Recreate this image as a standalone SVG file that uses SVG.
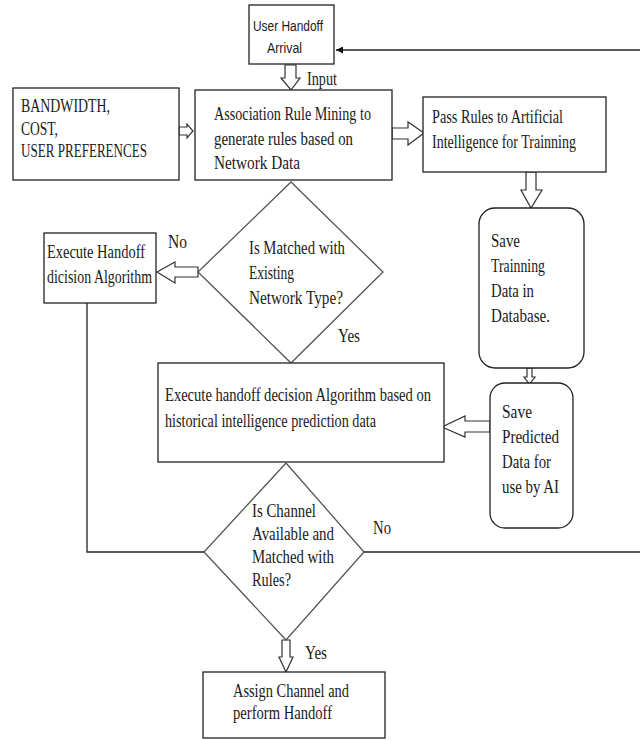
<svg xmlns="http://www.w3.org/2000/svg" width="640" height="740" viewBox="0 0 640 740">
<style>
  .box{fill:#fff;stroke:#222;stroke-width:1.3}
  .dia{fill:#fff;stroke:#555;stroke-width:1.3}
  .t{font-family:"Liberation Serif","Times New Roman",serif;font-size:18px;fill:#1a1a1a}
  .s{font-family:"Liberation Sans",Arial,sans-serif;font-size:14px;fill:#1a1a1a}
  .ln{fill:none;stroke:#222;stroke-width:1.3}
  .blk{fill:#fff;stroke:#333;stroke-width:1.2;stroke-linejoin:miter}
</style>
<defs>
  <marker id="ah" viewBox="0 0 10 10" refX="10" refY="5" markerWidth="7" markerHeight="7" markerUnits="userSpaceOnUse" orient="auto">
    <path d="M0,0 L10,5 L0,10 z" fill="#111"/>
  </marker>
</defs>
<rect width="640" height="740" fill="#fff"/>

<g id="connectors">
  <line class="ln" x1="640" y1="50" x2="336" y2="50" marker-end="url(#ah)"/>
  <polyline class="ln" points="87,303 87,552 204,552"/>
  <line class="ln" x1="364" y1="552" x2="640" y2="552"/>
  <polygon class="blk" points="285,65 296,65 296,78 300,78 291,90 281,78 285,78"/>
  <polygon class="blk" points="179,127 187,127 187,124 193,131 187,138 187,135 179,135"/>
  <polygon class="blk" points="392,128 408,128 408,122 424,133 408,145 408,139 392,139"/>
  <polygon class="blk" points="526,172 536,172 536,190 542,190 531,208 521,190 526,190"/>
  <polygon class="blk" points="527,368 532,368 532,377 535,377 529.5,384 524,377 527,377"/>
  <polygon class="blk" points="198,267 175,267 175,262 157,272 175,283 175,277 198,277"/>
  <polygon class="blk" points="490,421 465,421 465,416 442,427 465,437 465,432 490,432"/>
  <polygon class="blk" points="282,640 290,640 290,657 293,657 286,672 279,657 282,657"/>
  <text class="t" x="307" y="85" textLength="30" lengthAdjust="spacingAndGlyphs">Input</text>
  <text class="t" x="168" y="248" textLength="19" lengthAdjust="spacingAndGlyphs">No</text>
  <text class="t" x="338" y="342" textLength="22" lengthAdjust="spacingAndGlyphs">Yes</text>
  <text class="t" x="373" y="534" textLength="18" lengthAdjust="spacingAndGlyphs">No</text>
  <text class="t" x="305" y="659" textLength="22" lengthAdjust="spacingAndGlyphs">Yes</text>
</g>

<g id="user-handoff">
  <rect class="box" x="249" y="5" width="85" height="59"/>
  <text class="s" x="253" y="31" textLength="70" lengthAdjust="spacingAndGlyphs">User Handoff</text>
  <text class="s" x="267" y="53" textLength="35" lengthAdjust="spacingAndGlyphs">Arrival</text>
</g>

<g id="params">
  <rect class="box" x="13" y="88" width="166" height="92"/>
  <text class="t" x="21" y="112" textLength="89" lengthAdjust="spacingAndGlyphs">BANDWIDTH,</text>
  <text class="t" x="21" y="135" textLength="37" lengthAdjust="spacingAndGlyphs">COST,</text>
  <text class="t" x="21" y="157" textLength="126" lengthAdjust="spacingAndGlyphs">USER PREFERENCES</text>
</g>

<g id="arm">
  <rect class="box" x="195" y="90" width="197" height="90"/>
  <text class="t" x="214" y="120" textLength="157" lengthAdjust="spacingAndGlyphs">Association Rule Mining to</text>
  <text class="t" x="214" y="145" textLength="139" lengthAdjust="spacingAndGlyphs">generate rules based on</text>
  <text class="t" x="214" y="169" textLength="86" lengthAdjust="spacingAndGlyphs">Network Data</text>
</g>

<g id="pass-rules">
  <rect class="box" x="423" y="97" width="183" height="75"/>
  <text class="t" x="432" y="123" textLength="131" lengthAdjust="spacingAndGlyphs">Pass Rules to Artificial</text>
  <text class="t" x="432" y="148" textLength="144" lengthAdjust="spacingAndGlyphs">Intelligence for Trainning</text>
</g>

<g id="save-training">
  <rect class="box" x="479" y="208" width="105" height="160" rx="16" ry="16"/>
  <text class="t" x="491" y="247" textLength="29" lengthAdjust="spacingAndGlyphs">Save</text>
  <text class="t" x="491" y="272" textLength="54" lengthAdjust="spacingAndGlyphs">Trainning</text>
  <text class="t" x="491" y="297" textLength="43" lengthAdjust="spacingAndGlyphs">Data in</text>
  <text class="t" x="491" y="322" textLength="59" lengthAdjust="spacingAndGlyphs">Database.</text>
</g>

<g id="match-decision">
  <polygon class="dia" points="291,182 383,272 291,363 198,272"/>
  <text class="t" x="249" y="254" textLength="96" lengthAdjust="spacingAndGlyphs">Is Matched with</text>
  <text class="t" x="249" y="279" textLength="45" lengthAdjust="spacingAndGlyphs">Existing</text>
  <text class="t" x="249" y="304" textLength="94" lengthAdjust="spacingAndGlyphs">Network Type?</text>
</g>

<g id="exec-basic">
  <rect class="box" x="44" y="233" width="112" height="70"/>
  <text class="t" x="47" y="258" textLength="98" lengthAdjust="spacingAndGlyphs">Execute Handoff</text>
  <text class="t" x="47" y="283" textLength="105" lengthAdjust="spacingAndGlyphs">dicision Algorithm</text>
</g>

<g id="exec-ai">
  <rect class="box" x="158" y="363" width="286" height="99"/>
  <text class="t" x="165" y="401" textLength="266" lengthAdjust="spacingAndGlyphs">Execute handoff decision Algorithm based on</text>
  <text class="t" x="165" y="427" textLength="211" lengthAdjust="spacingAndGlyphs">historical intelligence prediction data</text>
</g>

<g id="save-predicted">
  <rect class="box" x="490" y="383" width="83" height="145" rx="15" ry="15"/>
  <text class="t" x="502" y="418" textLength="30" lengthAdjust="spacingAndGlyphs">Save</text>
  <text class="t" x="502" y="443" textLength="57" lengthAdjust="spacingAndGlyphs">Predicted</text>
  <text class="t" x="502" y="468" textLength="49" lengthAdjust="spacingAndGlyphs">Data for</text>
  <text class="t" x="502" y="493" textLength="57" lengthAdjust="spacingAndGlyphs">use by AI</text>
</g>

<g id="channel-decision">
  <polygon class="dia" points="286,463 364,552 286,640 204,552"/>
  <text class="t" x="252" y="517" textLength="64" lengthAdjust="spacingAndGlyphs">Is Channel</text>
  <text class="t" x="252" y="540" textLength="82" lengthAdjust="spacingAndGlyphs">Available and</text>
  <text class="t" x="252" y="563" textLength="82" lengthAdjust="spacingAndGlyphs">Matched with</text>
  <text class="t" x="252" y="586" textLength="39" lengthAdjust="spacingAndGlyphs">Rules?</text>
</g>

<g id="assign">
  <rect class="box" x="203" y="672" width="182" height="66"/>
  <text class="t" x="233" y="697" textLength="116" lengthAdjust="spacingAndGlyphs">Assign Channel and</text>
  <text class="t" x="233" y="719" textLength="99" lengthAdjust="spacingAndGlyphs">perform Handoff</text>
</g>
</svg>
